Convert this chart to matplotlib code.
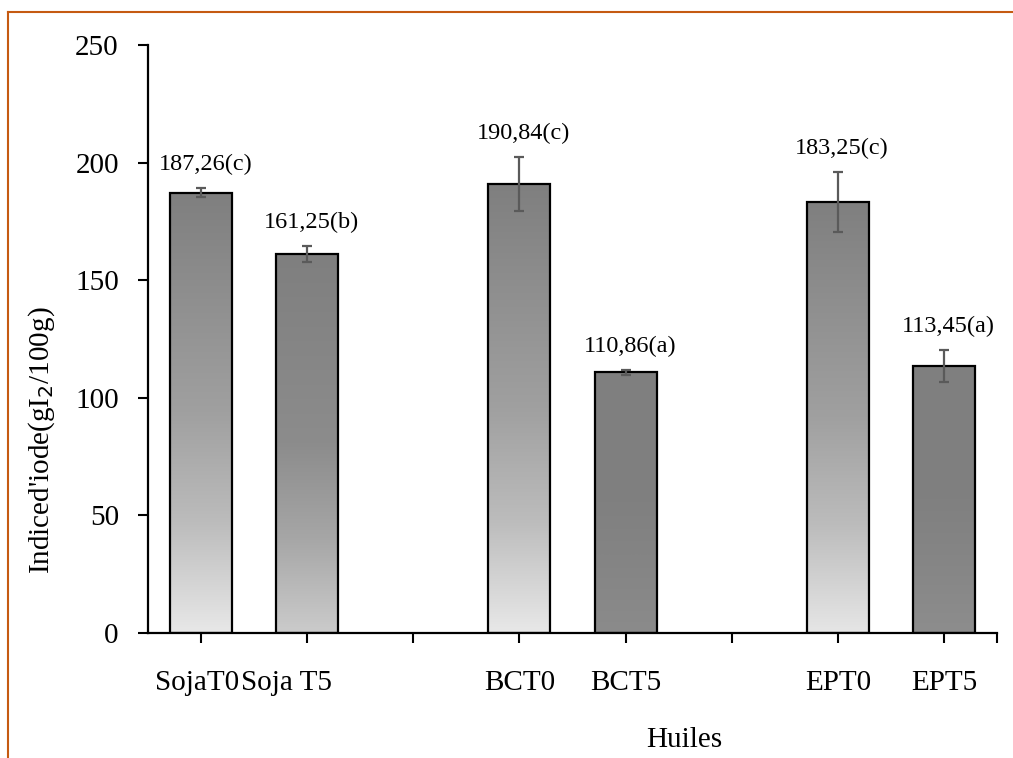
import matplotlib.pyplot as plt
import numpy as np
from matplotlib.colors import LinearSegmentedColormap
from matplotlib.lines import Line2D
from matplotlib.transforms import ScaledTranslation

# Indice d'iode des huiles (gI2/100g)
huiles = ["SojaT0", "Soja T5", "", "BCT0", "BCT5", "", "EPT0", "EPT5"]
valeurs = [187.26, 161.25, None, 190.84, 110.86, None, 183.25, 113.45]
erreurs = [1.8, 3.3, None, 11.6, 1.1, None, 12.8, 6.8]
lettres = ["c", "b", None, "c", "a", None, "c", "a"]
# gradient stops of each bar, bottom -> top
degrades = [
    ["#e8e8e8", "#bcbcbc", "#a0a0a0", "#7f7f7f"],
    ["#cbcbcb", "#a6a6a6", "#8c8c8c", "#7f7f7f"],
    None,
    ["#e8e8e8", "#bcbcbc", "#a0a0a0", "#7f7f7f"],
    ["#8b8b8b", "#858585", "#808080", "#7f7f7f"],
    None,
    ["#e6e6e6", "#bcbcbc", "#a0a0a0", "#7f7f7f"],
    ["#8d8d8d", "#868686", "#808080", "#7f7f7f"],
]

plt.rcParams["font.family"] = ["Liberation Serif", "DejaVu Serif"]

fig = plt.figure(figsize=(10.13, 7.58), dpi=100)
ax = fig.add_axes([148 / 1013, 1 - 633 / 758, (997 - 148) / 1013, (633 - 45) / 758])

x = np.arange(len(huiles))
grad = np.linspace(0, 1, 256).reshape(-1, 1)
for i, v in enumerate(valeurs):
    if v is None:
        continue
    bar = ax.bar(x[i], v, width=0.585, facecolor="none", edgecolor="black",
                 linewidth=1.6, zorder=3)[0]
    cmap = LinearSegmentedColormap.from_list("g", list(zip([0, 0.25, 0.5, 1], degrades[i])))
    im = ax.imshow(grad, cmap=cmap, origin="lower", aspect="auto",
                   extent=[x[i] - 0.2925, x[i] + 0.2925, 0, v], zorder=2)
    im.set_clip_path(bar)
    ax.errorbar(x[i], v, yerr=erreurs[i], fmt="none", ecolor="#5a5a5a",
                elinewidth=1.6, capsize=3.6, capthick=1.6, zorder=4)
    label = ("%.2f" % v).replace(".", ",") + "(%s)" % lettres[i]
    ax.text(x[i] + 0.04, v + erreurs[i] + 5.5, label,
            ha="center", va="bottom", fontsize=17.5)

ax.set_xlim(-0.5, 7.5)
ax.set_ylim(0, 250)
ax.set_yticks([0, 50, 100, 150, 200, 250])
ax.set_xticks(list(x) + [7.5])
ax.set_xticklabels(huiles + [""])
ax.tick_params(axis="both", direction="out", length=7, width=1.5, labelsize=21)
ax.tick_params(axis="x", pad=20)
ax.tick_params(axis="y", pad=14)
for s in ["top", "right"]:
    ax.spines[s].set_visible(False)
for s in ["left", "bottom"]:
    ax.spines[s].set_linewidth(1.6)

# the two soja labels sit closer together, running into each other
labels = ax.get_xticklabels()
for lab, dx in [(labels[0], -4), (labels[1], -21)]:
    lab.set_transform(lab.get_transform() + ScaledTranslation(dx / 100, 0, fig.dpi_scale_trans))

fig.text(684 / 1013, 1 - 740 / 758, "Huiles", ha="center", va="center", fontsize=21)
fig.text(42 / 1013, 1 - 440 / 758, "Indiced'iode(gI$_2$/100g)", rotation=90,
         ha="center", va="center", fontsize=21)

# orange frame around the chart
orange = "#c55a11"
fig.add_artist(Line2D([8 / 1013, 8 / 1013], [0, 1 - 12 / 758], color=orange, lw=1.5,
                      transform=fig.transFigure))
fig.add_artist(Line2D([8 / 1013, 1], [1 - 12 / 758, 1 - 12 / 758], color=orange, lw=1.5,
                      transform=fig.transFigure))

fig.savefig("out.png", dpi=100)
